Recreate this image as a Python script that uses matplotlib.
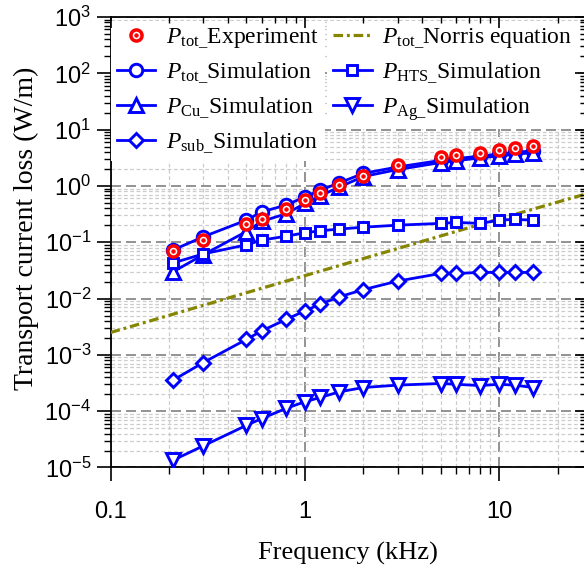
import numpy as np
import matplotlib
matplotlib.use('Agg')
import matplotlib.pyplot as plt
from matplotlib.ticker import FixedLocator, FixedFormatter, LogLocator, NullFormatter

# data
freq = [0.21, 0.3, 0.5, 0.6, 0.8, 1, 1.2, 1.5, 2, 3, 5, 6, 8, 10, 12, 15]
p_tot_exp = [0.069, 0.108, 0.213, 0.262, 0.395, 0.556, 0.76, 1.04, 1.48, 2.34,
             3.2, 3.52, 3.87, 4.32, 4.75, 5.16]
p_tot_sim = [0.073, 0.125, 0.247, 0.347, 0.456, 0.64, 0.84, 1.13, 1.67, 2.17,
             2.84, 3.05, 3.4, 3.68, 3.95, 4.2]
p_hts_sim = [0.043, 0.062, 0.090, 0.109, 0.128, 0.147, 0.160, 0.171, 0.185, 0.201,
             0.216, 0.225, 0.216, 0.247, 0.254, 0.247]
p_cu_sim = [0.030, 0.060, 0.155, 0.235, 0.32, 0.49, 0.67, 0.95, 1.47, 1.95,
            2.6, 2.8, 3.15, 3.4, 3.65, 3.9]
p_sub_sim = [3.56e-4, 7.3e-4, 1.88e-3, 2.67e-3, 4.25e-3, 6.05e-3, 7.95e-3, 0.0107, 0.0144, 0.0204,
             0.0279, 0.0279, 0.0291, 0.0291, 0.0291, 0.0291]
p_ag_sim = [1.35e-5, 2.42e-5, 5.6e-5, 7.4e-5, 1.12e-4, 1.47e-4, 1.75e-4, 2.2e-4, 2.63e-4, 2.9e-4,
            3.1e-4, 3.0e-4, 2.85e-4, 3.0e-4, 2.9e-4, 2.63e-4]
norris_freq = [0.1, 1, 10, 28]
norris_loss = [0.0025, 0.0255, 0.26, 0.72]

x_ticks = [0.1, 1, 10]
x_tick_labels = ['0.1', '1', '10']
y_ticks = [1e-5, 1e-4, 1e-3, 1e-2, 1e-1, 1e0, 1e1, 1e2, 1e3]
y_tick_labels = [r'$\mathsf{10^{-5}}$', r'$\mathsf{10^{-4}}$', r'$\mathsf{10^{-3}}$',
                 r'$\mathsf{10^{-2}}$', r'$\mathsf{10^{-1}}$', r'$\mathsf{10^{0}}$',
                 r'$\mathsf{10^{1}}$', r'$\mathsf{10^{2}}$', r'$\mathsf{10^{3}}$']

plt.rcParams['font.family'] = 'Liberation Serif'
plt.rcParams['mathtext.fontset'] = 'custom'
plt.rcParams['mathtext.rm'] = 'Liberation Serif'
plt.rcParams['mathtext.it'] = 'Liberation Serif:italic'
plt.rcParams['mathtext.sf'] = 'Liberation Sans'

fig = plt.figure(figsize=(5.84, 5.65), dpi=100)
ax = fig.add_axes([0.1894, 0.1726, 0.814, 0.7973])

blue = '#0000ff'
sim_kw = dict(color=blue, lw=2.0, mfc='white', mec=blue, mew=2.1, zorder=4)

norris, = ax.plot(norris_freq, norris_loss, color='#858500', lw=2.3, zorder=3)
norris.set_dashes([3.0, 1.2, 0.9, 1.2])
l_tot, = ax.plot(freq, p_tot_sim, marker='o', ms=9, **sim_kw)
l_cu, = ax.plot(freq, p_cu_sim, marker='^', ms=10, **sim_kw)
l_hts, = ax.plot(freq, p_hts_sim, marker='s', ms=7, **sim_kw)
l_sub, = ax.plot(freq, p_sub_sim, marker='D', ms=7.5, **sim_kw)
l_ag, = ax.plot(freq, p_ag_sim, marker='v', ms=10, **sim_kw)
e_ring, = ax.plot(freq, p_tot_exp, ls='none', marker='o', ms=8, mfc='white', mec='red', mew=2.5, zorder=5)
e_dot, = ax.plot(freq, p_tot_exp, ls='none', marker='o', ms=2.6, mfc='red', mec='red', mew=0.5, zorder=6)

ax.set_xscale('log')
ax.set_yscale('log')
ax.set_xlim(0.1, 28)
ax.set_ylim(1e-5, 1e3)

ax.xaxis.set_major_locator(FixedLocator(x_ticks))
ax.xaxis.set_major_formatter(FixedFormatter(x_tick_labels))
ax.xaxis.set_minor_locator(LogLocator(base=10, subs=np.arange(2, 10), numticks=100))
ax.xaxis.set_minor_formatter(NullFormatter())
ax.yaxis.set_major_locator(FixedLocator(y_ticks))
ax.yaxis.set_major_formatter(FixedFormatter(y_tick_labels))
ax.yaxis.set_minor_locator(LogLocator(base=10, subs=np.arange(2, 10), numticks=100))
ax.yaxis.set_minor_formatter(NullFormatter())

ax.tick_params(which='major', direction='out', length=10, width=1.2, labelsize=17)
ax.tick_params(which='minor', direction='out', length=5, width=1.0)
ax.tick_params(axis='x', which='major', pad=14, labelfontfamily='Liberation Sans')
ax.tick_params(axis='y', which='major', pad=4)
for s in ax.spines.values():
    s.set_linewidth(1.3)

ax.set_axisbelow(True)
ax.grid(which='major', ls=(0, (6, 3)), color='#808080', lw=1.2)
ax.grid(which='minor', ls=(0, (3, 2)), color='#cccccc', lw=0.9)

ax.set_xlabel('Frequency (kHz)', fontsize=19)
ax.set_ylabel('Transport current loss (W/m)', fontsize=20)
ax.xaxis.set_label_coords(0.5, -0.165)
ax.yaxis.set_label_coords(-0.15, 0.53)

# top / right ticks pointing inward
axt = ax.twiny()
axt.set_xscale('log')
axt.set_xlim(ax.get_xlim())
axt.xaxis.set_major_locator(FixedLocator(x_ticks))
axt.xaxis.set_minor_locator(LogLocator(base=10, subs=np.arange(2, 10), numticks=100))
axt.tick_params(which='major', direction='in', length=8, width=1.2, labeltop=False)
axt.tick_params(which='minor', direction='in', length=4, width=1.0)
axr = ax.twinx()
axr.set_yscale('log')
axr.set_ylim(ax.get_ylim())
axr.yaxis.set_major_locator(FixedLocator(y_ticks))
axr.yaxis.set_minor_locator(LogLocator(base=10, subs=np.arange(2, 10), numticks=100))
axr.tick_params(which='major', direction='in', length=8, width=1.2, labelright=False)
axr.tick_params(which='minor', direction='in', length=4, width=1.0)
for a in (axt, axr):
    for s in a.spines.values():
        s.set_visible(False)

leg_kw = dict(fontsize=17, frameon=True, fancybox=False, framealpha=1, edgecolor='none',
              facecolor='white', handlelength=1.65, handletextpad=0.45, labelspacing=0.42,
              borderpad=0.25, borderaxespad=0, numpoints=1, loc='upper left')
leg1 = ax.legend([(e_ring, e_dot), l_tot, l_cu, l_sub],
                 [r'$P_{\mathrm{tot\_}}$Experiment', r'$P_{\mathrm{tot\_}}$Simulation',
                  r'$P_{\mathrm{Cu\_}}$Simulation', r'$P_{\mathrm{sub\_}}$Simulation'],
                 bbox_to_anchor=(0.0, 0.992), **leg_kw)
leg1.set_zorder(10)
ax.add_artist(leg1)
leg2 = ax.legend([norris, l_hts, l_ag],
                 [r'$P_{\mathrm{tot\_}}$Norris equation', r'$P_{\mathrm{HTS\_}}$Simulation',
                  r'$P_{\mathrm{Ag\_}}$Simulation'],
                 bbox_to_anchor=(0.455, 0.992), **leg_kw)
leg2.set_zorder(10)

plt.savefig('out.png', dpi=100)
plt.close()
